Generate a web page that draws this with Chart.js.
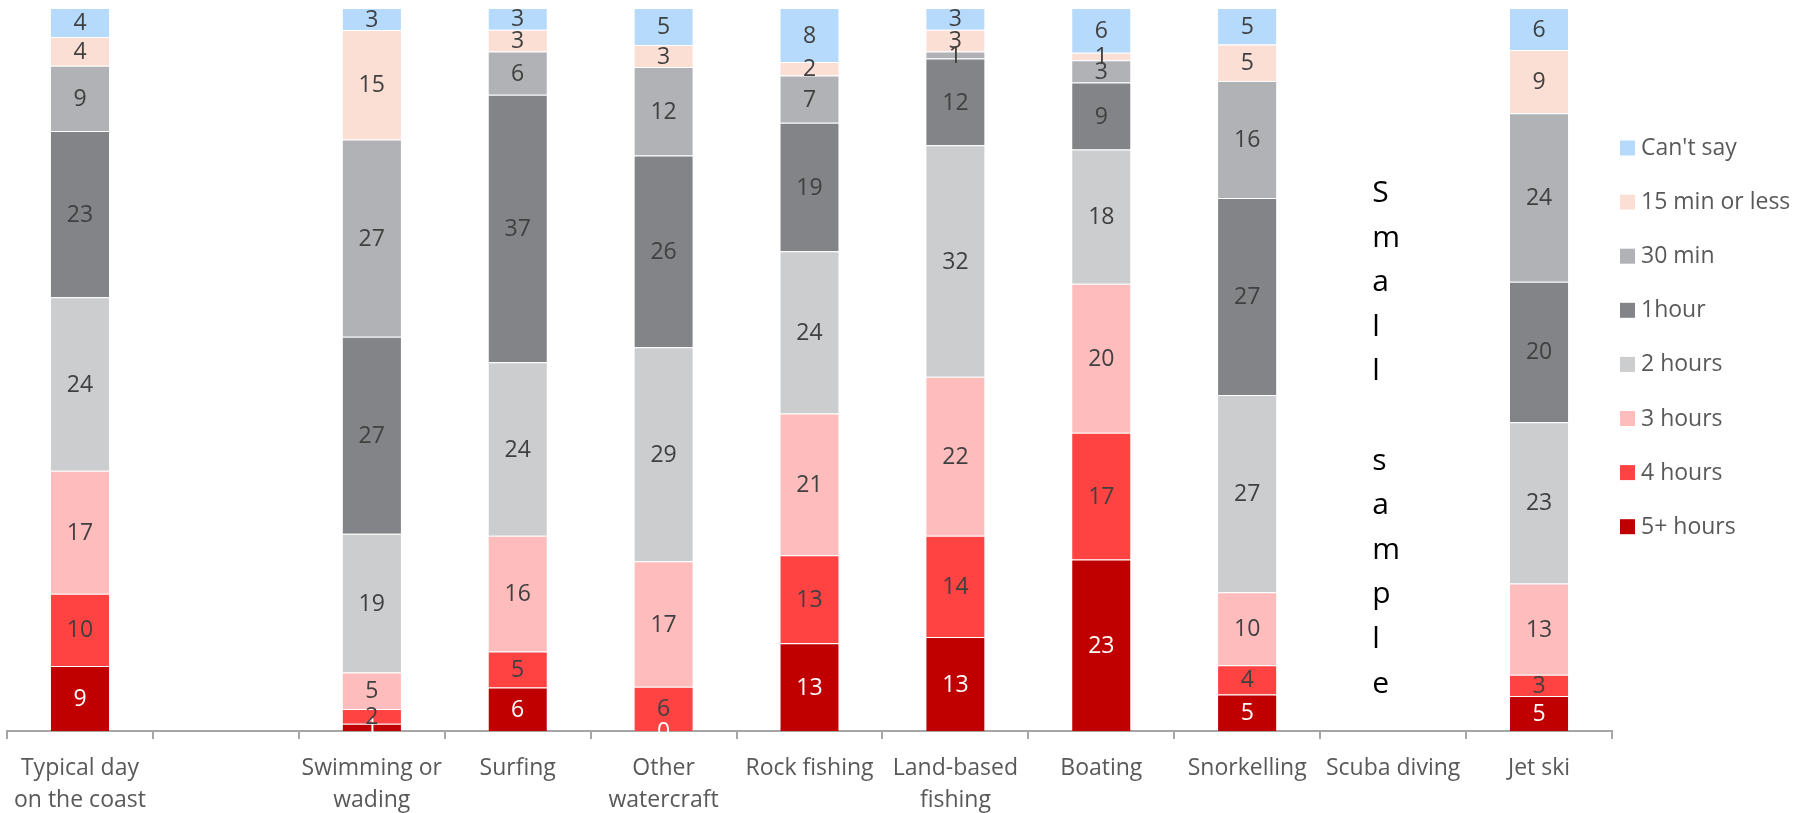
<!DOCTYPE html>
<html>
<head>
<meta charset="utf-8">
<script src="https://cdn.jsdelivr.net/npm/chart.js@4/dist/chart.umd.min.js"></script>
<style>
  html, body { margin: 0; padding: 0; background: #fff; }
  #wrap { width: 1796px; height: 813px; }
</style>
</head>
<body>
<div id="wrap"><canvas id="chart" width="1796" height="813"></canvas></div>
<script>
const categories = [
  ["Typical day", "on the coast"], "", ["Swimming or", "wading"], "Surfing",
  ["Other", "watercraft"], "Rock fishing", ["Land-based", "fishing"], "Boating",
  "Snorkelling", "Scuba diving", "Jet ski"
];
const seriesNames = ["5+ hours", "4 hours", "3 hours", "2 hours", "1hour", "30 min", "15 min or less", "Can't say"];

const fivePlus   = [9,  null, 1,  6,  0,  13, 13, 23, 5,  null, 5];
const fourHours  = [10, null, 2,  5,  6,  13, 14, 17, 4,  null, 3];
const threeHours = [17, null, 5,  16, 17, 21, 22, 20, 10, null, 13];
const twoHours   = [24, null, 19, 24, 29, 24, 32, 18, 27, null, 23];
const oneHour    = [23, null, 27, 37, 26, 19, 12, 9,  27, null, 20];
const thirtyMin  = [9,  null, 27, 6,  12, 7,  1,  3,  16, null, 24];
const fifteenMin = [4,  null, 15, 3,  3,  2,  3,  1,  5,  null, 9];
const cantSay    = [4,  null, 3,  3,  5,  8,  3,  6,  5,  null, 6];

const seriesValues = [fivePlus, fourHours, threeHours, twoHours, oneHour, thirtyMin, fifteenMin, cantSay];
const seriesColors = ["#c00000", "#ff4343", "#ffbcbc", "#cccdcf", "#838488", "#b1b2b5", "#fbdfd5", "#b6dafc"];
const labelColors  = ["#ffffff", "#404040", "#404040", "#404040", "#404040", "#404040", "#404040", "#404040"];

const smallSampleIndex = 9;
const smallSampleText = "Small sample";

const FONT = "'Open Sans', sans-serif";

// each column is drawn as a 100% stack, labels keep the rounded values
const totals = categories.map((c, i) => seriesValues.reduce((s, arr) => s + (arr[i] || 0), 0));

const datasets = seriesNames.map((name, k) => ({
  label: name,
  data: seriesValues[k].map((v, i) => v == null ? null : v / totals[i] * 100),
  raw: seriesValues[k],
  backgroundColor: seriesColors[k],
  borderColor: "rgba(255,255,255,0.6)",
  borderWidth: { top: 1, bottom: 0, left: 0, right: 0 },
  borderSkipped: false,
  barPercentage: 0.4,
  categoryPercentage: 1
}));

const extras = {
  id: "extras",
  afterDatasetsDraw(chart) {
    const ctx = chart.ctx;
    ctx.save();
    ctx.font = "23px " + FONT;
    ctx.textAlign = "center";
    ctx.textBaseline = "middle";
    chart.data.datasets.forEach((ds, k) => {
      const meta = chart.getDatasetMeta(k);
      meta.data.forEach((bar, i) => {
        const v = ds.raw[i];
        if (v == null) return;
        ctx.fillStyle = labelColors[k];
        ctx.fillText(String(v), bar.x, (bar.y + bar.base) / 2 + 1);
      });
    });
    ctx.restore();
  },
  afterDraw(chart) {
    const ctx = chart.ctx;
    const area = chart.chartArea;
    const x = chart.scales.x;
    ctx.save();

    // "Small sample" written downwards in the empty column
    ctx.font = "30px " + FONT;
    ctx.fillStyle = "#000";
    ctx.textAlign = "left";
    ctx.textBaseline = "alphabetic";
    const sx = x.getPixelForValue(smallSampleIndex) - 21;
    smallSampleText.split("").forEach((ch, i) => {
      if (ch !== " ") ctx.fillText(ch, sx, area.top + 194 + i * 44.6);
    });

    // legend, top item is the last series
    ctx.font = "23px " + FONT;
    ctx.textBaseline = "middle";
    const lx = area.right + 8;
    for (let j = 0; j < seriesNames.length; j++) {
      const k = seriesNames.length - 1 - j;
      const cy = 147.5 + j * 54.1;
      ctx.fillStyle = seriesColors[k];
      ctx.fillRect(lx, cy - 7, 15, 15);
      ctx.fillStyle = "#595959";
      ctx.fillText(seriesNames[k], lx + 21, cy + 1);
    }
    ctx.restore();
  }
};

new Chart(document.getElementById("chart"), {
  type: "bar",
  data: { labels: categories, datasets: datasets },
  options: {
    responsive: false,
    animation: false,
    devicePixelRatio: 1,
    layout: { padding: { top: 8, left: 7, right: 184, bottom: 0 } },
    plugins: { legend: { display: false }, tooltip: { enabled: false } },
    scales: {
      x: {
        stacked: true,
        grid: { display: true, drawOnChartArea: false, drawTicks: true, tickLength: 8, color: "#a6a6a6", lineWidth: 2, offset: true },
        border: { display: true, color: "#a6a6a6", width: 2 },
        ticks: { color: "#595959", font: { family: FONT, size: 23, lineHeight: 1.39 }, padding: 13, maxRotation: 0, autoSkip: false },
        afterFit(s) { s.height = 82; }
      },
      y: { stacked: true, display: false, min: 0, max: 100 }
    }
  },
  plugins: [extras]
});
</script>
</body>
</html>
